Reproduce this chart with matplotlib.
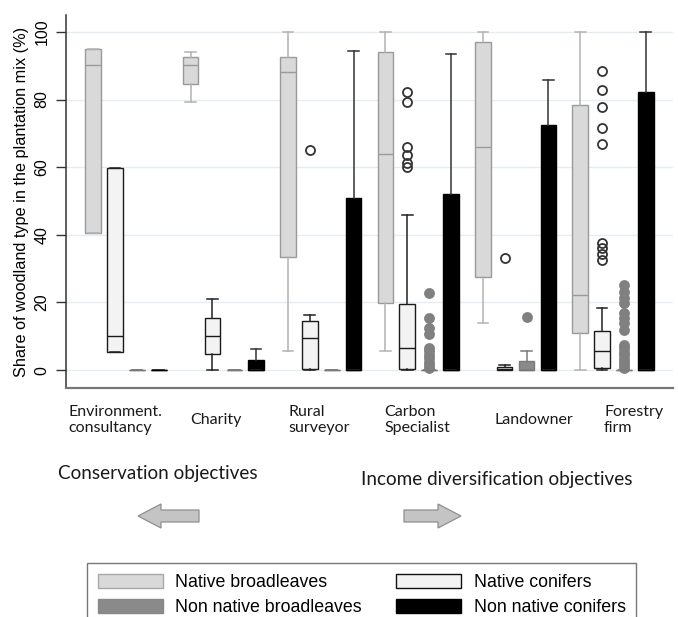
import matplotlib
matplotlib.use("Agg")
import matplotlib.pyplot as plt
from matplotlib.patches import Patch, FancyArrow

# ---------------- data ----------------
categories = ["Environment.\nconsultancy", "Charity", "Rural\nsurveyor",
              "Carbon\nSpecialist", "Landowner", "Forestry\nfirm"]
series_names = ["Native broadleaves", "Native conifers",
                "Non native broadleaves", "Non native conifers"]
y_ticks = [0, 20, 40, 60, 80, 100]

# Native broadleaves
nb_whislo = [40.4, 79.2, 5.7, 5.7, 14.0, 0.0]
nb_q1 = [40.4, 84.6, 33.5, 19.7, 27.6, 11.1]
nb_med = [90.2, 90.2, 88.0, 64.0, 66.0, 22.2]
nb_q3 = [94.9, 92.5, 92.5, 94.0, 97.1, 78.4]
nb_whishi = [94.9, 94.0, 100.0, 100.0, 100.0, 100.0]
nb_fliers = [[], [], [], [], [], []]

# Native conifers
nc_whislo = [5.4, 0.0, 0.0, 0.0, 0.0, 0.0]
nc_q1 = [5.4, 4.9, 0.3, 0.3, 0.0, 0.6]
nc_med = [10.0, 10.0, 9.6, 6.6, 0.3, 5.7]
nc_q3 = [59.7, 15.5, 14.6, 19.4, 1.0, 11.5]
nc_whishi = [59.7, 21.0, 16.3, 45.9, 1.4, 18.5]
nc_fliers = [[], [], [65.0],
             [82.1, 79.2, 65.9, 63.6, 61.1, 60.0],
             [33.0],
             [88.3, 82.8, 77.9, 71.5, 66.9, 37.7, 36.0, 34.3, 32.5]]

# Non native broadleaves
nnb_whislo = [0.0, 0.0, 0.0, 0.0, 0.0, 0.0]
nnb_q1 = [0.0, 0.0, 0.0, 0.0, 0.0, 0.0]
nnb_med = [0.0, 0.0, 0.0, 0.0, 0.0, 0.0]
nnb_q3 = [0.0, 0.0, 0.0, 0.0, 2.8, 0.0]
nnb_whishi = [0.0, 0.0, 0.0, 0.0, 5.6, 0.0]
nnb_fliers = [[], [], [],
              [22.7, 15.3, 12.3, 10.8, 6.4, 5.5, 4.5, 3.5, 2.5, 1.5, 0.6],
              [15.8],
              [25.1, 23.2, 21.2, 19.7, 16.8, 15.3, 13.8, 11.8,
               7.4, 6.4, 5.4, 4.4, 3.4, 2.4, 1.4, 0.5]]

# Non native conifers
nnc_whislo = [0.0, 0.0, 0.0, 0.0, 0.0, 0.0]
nnc_q1 = [0.0, 0.0, 0.0, 0.0, 0.0, 0.0]
nnc_med = [0.0, 0.0, 0.0, 0.0, 0.0, 0.0]
nnc_q3 = [0.0, 3.0, 50.8, 52.0, 72.5, 82.3]
nnc_whishi = [0.0, 6.1, 94.4, 93.4, 85.8, 100.0]
nnc_fliers = [[], [], [], [], [], []]

# ---------------- styling ----------------
W, H = 678, 617
fig = plt.figure(figsize=(W / 100, H / 100), dpi=100)
fig.patch.set_facecolor("white")

ax = fig.add_axes([66 / W, 1 - 388 / H, 607 / W, 373 / H])
ax.set_xlim(1 - 60 / 97.4, 6 + 60 / 97.4)
ax.set_ylim(-5.3, 105)

offsets = [-0.336, -0.113, 0.113, 0.336]
styles = [
    dict(face="#d9d9d9", edge="#9a9a9a", med="#9a9a9a", whisk="#b3b3b3",
         fl_face="none", fl_edge="#555555"),
    dict(face="#f3f3f3", edge="#1a1a1a", med="#1a1a1a", whisk="#222222",
         fl_face="none", fl_edge="#333333"),
    dict(face="#8a8a8a", edge="#7a7a7a", med="#7a7a7a", whisk="#7a7a7a",
         fl_face="#808080", fl_edge="#808080"),
    dict(face="#000000", edge="#000000", med="#000000", whisk="#333333",
         fl_face="none", fl_edge="#000000"),
]
series_data = [
    (nb_whislo, nb_q1, nb_med, nb_q3, nb_whishi, nb_fliers),
    (nc_whislo, nc_q1, nc_med, nc_q3, nc_whishi, nc_fliers),
    (nnb_whislo, nnb_q1, nnb_med, nnb_q3, nnb_whishi, nnb_fliers),
    (nnc_whislo, nnc_q1, nnc_med, nnc_q3, nnc_whishi, nnc_fliers),
]

for s, (wl, q1, md, q3, wh, fl) in enumerate(series_data):
    st = styles[s]
    stats = []
    for i in range(len(categories)):
        stats.append(dict(whislo=wl[i], q1=q1[i], med=md[i], q3=q3[i],
                          whishi=wh[i], fliers=fl[i]))
    pos = [i + 1 + offsets[s] for i in range(len(categories))]
    ax.bxp(stats, positions=pos, widths=0.16, patch_artist=True,
           showfliers=True, capwidths=0.11,
           boxprops=dict(facecolor=st["face"], edgecolor=st["edge"], linewidth=1.0),
           medianprops=dict(color=st["med"], linewidth=1.0),
           whiskerprops=dict(color=st["whisk"], linewidth=1.1),
           capprops=dict(color=st["whisk"], linewidth=1.1),
           flierprops=dict(marker="o", markerfacecolor=st["fl_face"],
                           markeredgecolor=st["fl_edge"], markersize=6.5,
                           markeredgewidth=1.3, linestyle="none"))

ax.set_yticks(y_ticks)
ax.set_yticklabels([str(t) for t in y_ticks], rotation=90, va="center",
                   fontsize=11.5, family="Liberation Sans")
ax.set_xticks([])
ax.yaxis.grid(True, color="#e4edf1", linewidth=1.0)
ax.set_axisbelow(True)
for sp in ["top", "right"]:
    ax.spines[sp].set_visible(False)
ax.spines["left"].set_color("#333333")
ax.spines["left"].set_linewidth(1.1)
ax.spines["bottom"].set_color("#777777")
ax.spines["bottom"].set_linewidth(1.6)
ax.tick_params(axis="y", direction="out", length=7, width=1.0, color="#333333", pad=5)
ax.set_ylabel("Share of woodland type in the plantation mix (%)",
              fontsize=11.7, family="Liberation Sans", labelpad=4)

# ---------------- overlay for annotations (pixel coordinates) ----------------
ov = fig.add_axes([0, 0, 1, 1], zorder=-1)
ov.set_xlim(0, W)
ov.set_ylim(H, 0)
ov.axis("off")

label_x = [68, 190, 288, 384, 495, 604]
for lx, lab in zip(label_x, categories):
    ov.text(lx, 420, lab, ha="left", va="center", fontsize=11.5,
            family="Lato", color="#1a1a1a", linespacing=1.12)

ov.text(58, 473, "Conservation objectives", ha="left", va="center",
        fontsize=13.6, family="Lato", color="#1a1a1a")
ov.text(361, 479, "Income diversification objectives", ha="left", va="center",
        fontsize=13.6, family="Lato", color="#1a1a1a")

for x0, dx in [(199, -61), (404, 57)]:
    ov.add_patch(FancyArrow(x0, 516, dx, 0, width=12, head_width=24,
                            head_length=23, length_includes_head=True,
                            facecolor="#c4c4c4", edgecolor="#8f8f8f",
                            linewidth=0.9))

# ---------------- legend ----------------
handles = [
    Patch(facecolor=styles[0]["face"], edgecolor="#a8a8a8", label=series_names[0]),
    Patch(facecolor=styles[2]["face"], edgecolor="#888888", label=series_names[2]),
    Patch(facecolor=styles[1]["face"], edgecolor="#111111", label=series_names[1]),
    Patch(facecolor=styles[3]["face"], edgecolor="#000000", label=series_names[3]),
]
leg = fig.legend(handles=handles, ncol=2, loc="upper left",
                 bbox_to_anchor=(87 / W, 1 - 563 / H),
                 fancybox=False, frameon=True,
                 prop=dict(family="Liberation Sans", size=12.8),
                 handlelength=3.65, handleheight=0.9, handletextpad=0.7,
                 columnspacing=1.95,
                 labelspacing=0.42, borderpad=0.6, borderaxespad=0.0)
leg.get_frame().set_edgecolor("#555555")
leg.get_frame().set_linewidth(1.0)

fig.savefig("out.png", dpi=100, facecolor="white")
